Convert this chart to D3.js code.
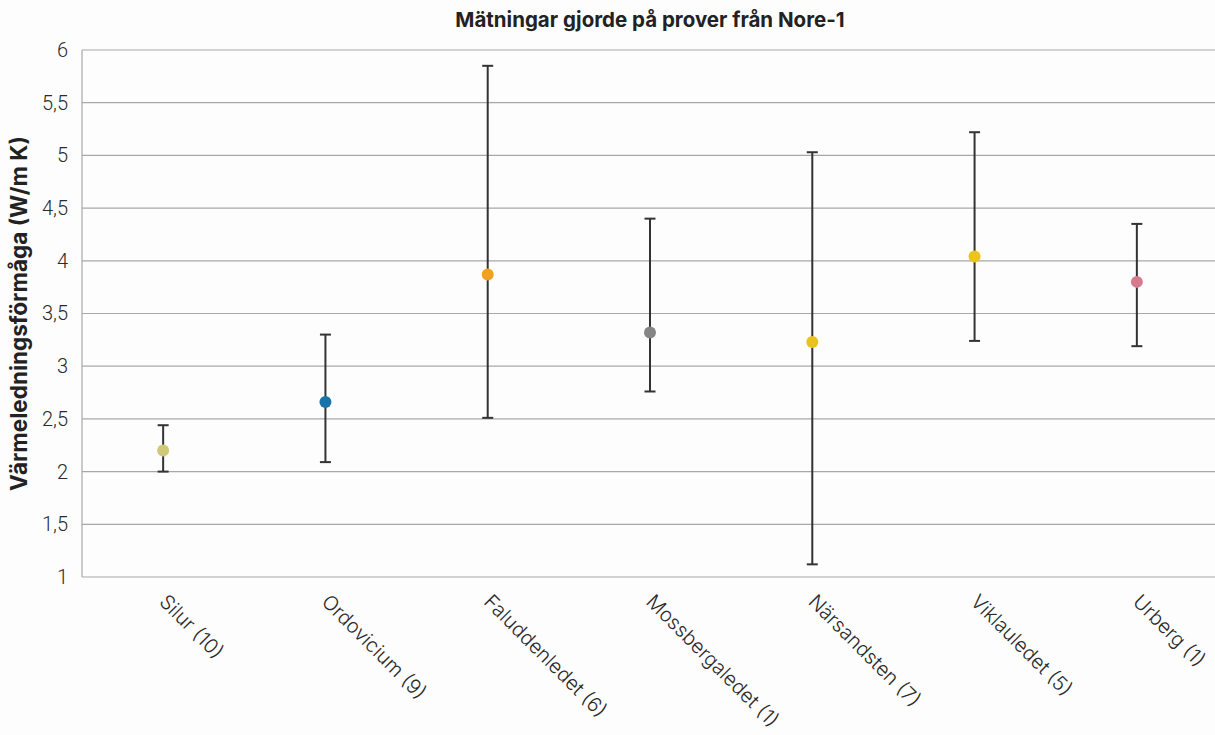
<!DOCTYPE html>
<html>
<head>
<meta charset="utf-8">
<script src="https://cdn.jsdelivr.net/npm/d3@7"></script>
<style>
  html, body { margin: 0; padding: 0; background: #fdfdfd; }
  svg { display: block; }
</style>
</head>
<body>
<svg id="chart" width="1215" height="735"></svg>
<script>
// Formations sampled in the Nore-1 borehole (number of samples in brackets)
const categories = ["Silur (10)", "Ordovicium (9)", "Faluddenledet (6)", "Mossbergaledet (1)",
                    "Närsandsten (7)", "Viklauledet (5)", "Urberg (1)"];
// Mean thermal conductivity and the min/max range for each formation
const meanValues = [2.20, 2.66, 3.87, 3.32, 3.23, 4.04, 3.80];
const minValues  = [2.00, 2.09, 2.51, 2.76, 1.12, 3.24, 3.19];
const maxValues  = [2.44, 3.30, 5.85, 4.40, 5.03, 5.22, 4.35];
const pointColors = ["#cfc87a", "#1874a8", "#f3a11d", "#858585", "#e9c21e", "#ecc41c", "#d57b8d"];
const yTicks = [1, 1.5, 2, 2.5, 3, 3.5, 4, 4.5, 5, 5.5, 6];

const title = "Mätningar gjorde på prover från Nore-1";
const yTitle = "Värmeledningsförmåga (W/m K)";

const svg = d3.select("#chart");
const plot = { left: 82, right: 1218, top: 50, bottom: 577 };

const x = d3.scaleBand().domain(categories).range([plot.left, plot.right]);
const y = d3.scaleLinear().domain([1, 6]).range([plot.bottom, plot.top]);
const fmt = d => String(d).replace(".", ",");

// Horizontal gridlines
svg.append("g")
  .selectAll("line")
  .data(yTicks)
  .join("line")
  .attr("x1", plot.left).attr("x2", plot.right)
  .attr("y1", d => y(d)).attr("y2", d => y(d))
  .attr("stroke", "#a8a8a8").attr("stroke-width", 1.2);

// Left axis line
svg.append("line")
  .attr("x1", plot.left).attr("x2", plot.left)
  .attr("y1", plot.top).attr("y2", plot.bottom)
  .attr("stroke", "#a8a8a8").attr("stroke-width", 1.2);

// Y tick labels
const yAxis = d3.axisLeft(y).tickValues(yTicks).tickFormat(fmt).tickSize(0).tickPadding(14);
const gy = svg.append("g").attr("transform", `translate(${plot.left},0)`).call(yAxis);
gy.select(".domain").remove();
gy.selectAll("text")
  .attr("font-family", "Roboto, 'Liberation Sans', sans-serif")
  .attr("font-size", 20)
  .attr("font-weight", 300)
  .attr("fill", "#2a2a2a");

// X tick labels, rotated
const gx = svg.append("g").attr("transform", `translate(0,${plot.bottom})`)
  .call(d3.axisBottom(x).tickSize(0).tickPadding(0));
gx.select(".domain").remove();
gx.selectAll("text")
  .attr("font-family", "Inter, 'Open Sans', sans-serif")
  .attr("font-size", 20)
  .attr("font-weight", 300)
  .attr("fill", "#2a2a2a")
  .attr("text-anchor", "start")
  .attr("dy", 0)
  .attr("transform", "translate(-5,26) rotate(45)");

// Error bars and mean points
const data = categories.map((c, i) => ({
  cat: c, mean: meanValues[i], lo: minValues[i], hi: maxValues[i], color: pointColors[i]
}));
const cx = d => x(d.cat) + x.bandwidth() / 2;
const cap = 5.5;

const bars = svg.append("g").selectAll("g").data(data).join("g")
  .attr("stroke", "#333").attr("stroke-width", 2);
bars.append("line")
  .attr("x1", cx).attr("x2", cx)
  .attr("y1", d => y(d.lo)).attr("y2", d => y(d.hi));
bars.append("line")
  .attr("x1", d => cx(d) - cap).attr("x2", d => cx(d) + cap)
  .attr("y1", d => y(d.hi)).attr("y2", d => y(d.hi));
bars.append("line")
  .attr("x1", d => cx(d) - cap).attr("x2", d => cx(d) + cap)
  .attr("y1", d => y(d.lo)).attr("y2", d => y(d.lo));

svg.append("g").selectAll("circle").data(data).join("circle")
  .attr("cx", cx).attr("cy", d => y(d.mean))
  .attr("r", 6)
  .attr("fill", d => d.color);

// Titles
svg.append("text")
  .attr("x", 650).attr("y", 27)
  .attr("text-anchor", "middle")
  .attr("font-family", "Inter, 'Open Sans', sans-serif")
  .attr("font-size", 20.5)
  .attr("font-weight", 700)
  .attr("fill", "#222")
  .text(title);

svg.append("text")
  .attr("transform", `translate(27,${(plot.top + plot.bottom) / 2}) rotate(-90)`)
  .attr("text-anchor", "middle")
  .attr("font-family", "Inter, 'Open Sans', sans-serif")
  .attr("font-size", 22.5)
  .attr("font-weight", 700)
  .attr("fill", "#222")
  .text(yTitle);
</script>
</body>
</html>
